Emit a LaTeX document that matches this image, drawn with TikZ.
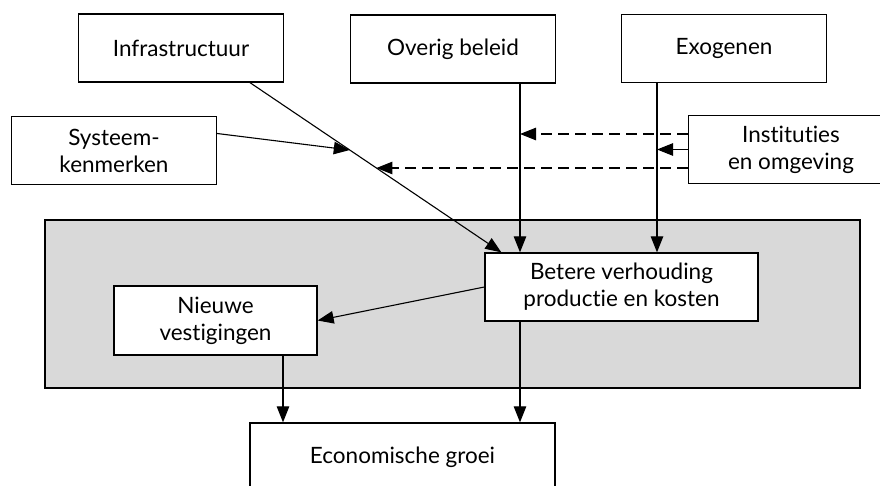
\documentclass[tikz,border=0pt]{standalone}
\usepackage{fontspec}
\setmainfont{Lato}[RawFeature=-liga]
\usetikzlibrary{arrows.meta,calc}
\definecolor{panel}{HTML}{D9D9D9}

\begin{document}
\begin{tikzpicture}[x=1pt,y=-1pt,
  box/.style={draw=black, line width=1.3pt, fill=white, align=center,
    font=\fontsize{22.5}{27}\selectfont, inner sep=0pt,
    minimum width=205pt, minimum height=68pt},
  conn/.style={draw=black, line width=1.1pt, -{Triangle[length=16pt,width=12.5pt]}},
  dashconn/.style={conn, dash pattern=on 11pt off 6pt}]
\useasboundingbox (0,0) rectangle (880,485);

% shaded panel around the effects
\draw[fill=panel, line width=1.3pt] (45,220) rectangle (860,388);

% boxes
\node[box] (infra) at (181,48) {Infrastructuur};
\node[box] (overig) at (453,49) {Overig beleid};
\node[box] (exo) at (724,48.5) {Exogenen};
\node[box] (sys) at (114,150.5) {Systeem-\\kenmerken};
\node[box] (inst) at (791,149.5) {Instituties\\en omgeving};
\node[box, minimum width=273pt] (betere) at (621.5,287) {Betere verhouding\\productie en kosten};
\node[box, minimum width=203pt, minimum height=69pt] (nieuwe) at (215.5,320.5) {Nieuwe\\vestigingen};
\node[box, minimum width=305pt] (econ) at (402.5,457) {Economische groei};

% end points of the vertical and oblique connectors
\coordinate (infraout) at ([xshift=69pt]infra.south);
\coordinate (betin) at ([xshift=17pt]betere.north west);
\coordinate (ovout) at ([xshift=67pt]overig.south);
\coordinate (exout) at ([xshift=-67pt]exo.south);
\coordinate (sysin) at ($(infraout)!0.397!(betin)$);
\coordinate (instin) at ($(infraout)!0.503!(betin)$);
\coordinate (betout) at ([xshift=-101.5pt]betere.south);
\coordinate (nwout) at ([xshift=67.5pt]nieuwe.south);
\coordinate (upstart) at ([yshift=15.5pt]inst.west);

% influences on the production/cost ratio
\draw[conn] (infraout) -- (betin);
\draw[conn] (ovout) -- (ovout |- betere.north);
\draw[conn] (exout) -- (exout |- betere.north);
\draw[conn] ([yshift=17pt]sys.east) -- (sysin);

% institutions act on the channels
\draw[dashconn] (upstart) -- (ovout |- upstart);
\draw[conn] (inst.west) -- (exout |- inst.west);
\draw[dashconn] (inst.west |- instin) -- (instin);

% effects on growth
\draw[conn] (betere.west) -- (nieuwe.east);
\draw[conn] (nwout) -- (nwout |- econ.north);
\draw[conn] (betout) -- (betout |- econ.north);
\end{tikzpicture}
\end{document}
